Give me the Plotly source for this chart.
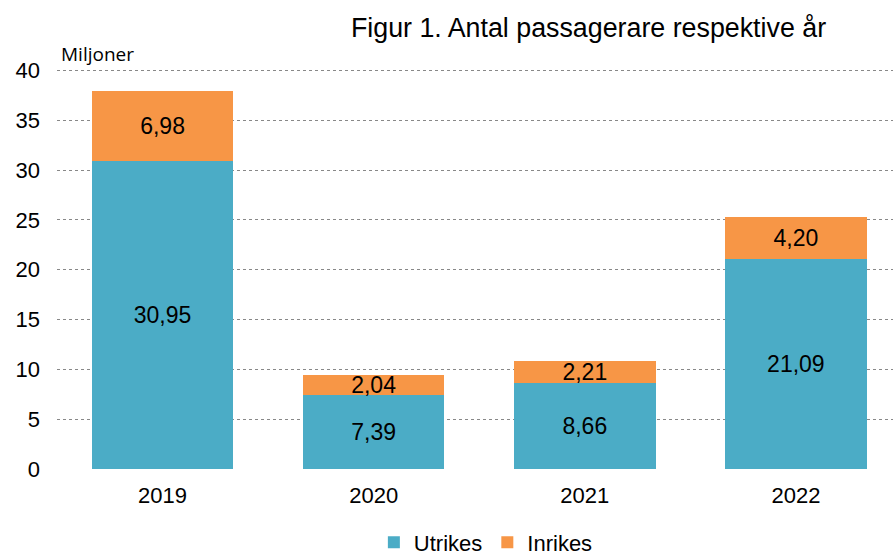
import plotly.graph_objects as go

years = ["2019", "2020", "2021", "2022"]
utrikes = [30.95, 7.39, 8.66, 21.09]
inrikes = [6.98, 2.04, 2.21, 4.20]
y_ticks = [0, 5, 10, 15, 20, 25, 30, 35, 40]


def fmt(v):
    # Swedish decimal comma
    return f"{v:.2f}".replace(".", ",")


fig = go.Figure()
fig.add_trace(
    go.Bar(
        x=years,
        y=utrikes,
        name="Utrikes",
        marker_color="#4BACC6",
        marker_line_width=0,
        text=[fmt(v) for v in utrikes],
        textposition="inside",
        insidetextanchor="middle",
        textfont=dict(color="black", size=23),
    )
)
fig.add_trace(
    go.Bar(
        x=years,
        y=inrikes,
        name="Inrikes",
        marker_color="#F79646",
        marker_line_width=0,
        text=[fmt(v) for v in inrikes],
        textposition="inside",
        insidetextanchor="middle",
        textfont=dict(color="black", size=23),
    )
)

fig.update_layout(
    barmode="stack",
    bargap=0.33,
    width=893,
    height=557,
    margin=dict(l=57, r=0, t=69, b=88),
    plot_bgcolor="white",
    paper_bgcolor="white",
    font=dict(family="Liberation Sans, Arial, sans-serif", color="black", size=22),
    uniformtext=dict(minsize=23, mode="show"),
    title=dict(
        text="Figur 1. Antal passagerare respektive år",
        x=0.659,
        xanchor="center",
        y=0.951,
        yanchor="middle",
        font=dict(size=26.8, color="black"),
    ),
    legend=dict(
        orientation="h",
        x=0.513,
        xanchor="center",
        yref="container",
        y=0.026,
        yanchor="middle",
        font=dict(size=22),
        traceorder="normal",
        itemwidth=30,
    ),
    xaxis=dict(
        range=[-0.5, 3.46],
        showline=False,
        ticks="",
        tickfont=dict(size=22),
        ticklabelstandoff=11,
    ),
    yaxis=dict(
        range=[0, 40.15],
        tickvals=y_ticks,
        showgrid=True,
        gridcolor="#888888",
        griddash="dot",
        gridwidth=1,
        zeroline=False,
        showline=False,
        tickfont=dict(size=22),
        ticklabelstandoff=16,
    ),
)

fig.add_annotation(
    text="Miljoner",
    xref="paper",
    yref="paper",
    x=0.002,
    y=1.037,
    xanchor="left",
    yanchor="middle",
    showarrow=False,
    font=dict(family="Open Sans, Lato, sans-serif", size=19, color="black"),
)

# drop the default page margin so the figure sits at the window's corner
fig.write_html(
    "out.html",
    config={"displayModeBar": False},
    post_script="document.body.style.margin='0';",
)
